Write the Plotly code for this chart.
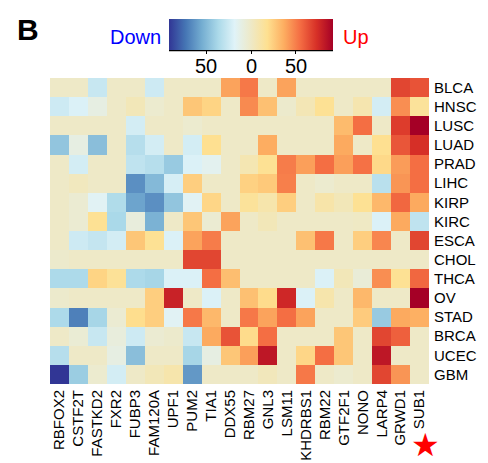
import plotly.graph_objects as go

genes = ["RBFOX2", "CSTF2T", "FASTKD2", "FXR2", "FUBP3", "FAM120A", "UPF1", "PUM2", "TIA1", "DDX55",
         "RBM27", "GNL3", "LSM11", "KHDRBS1", "RBM22", "GTF2F1", "NONO", "LARP4", "GRWD1", "SUB1"]
cancers = ["BLCA", "HNSC", "LUSC", "LUAD", "PRAD", "LIHC", "KIRP", "KIRC", "ESCA", "CHOL",
           "THCA", "OV", "STAD", "BRCA", "UCEC", "GBM"]

BLCA = [0, 0, -27, 0, 0, -25, 0, 0, 0, 40, 52, 0, 40, 0, 0, 0, 0, 0, 67, 63]
HNSC = [-25, -20, -10, 0, 5, -3, 0, 28, 23, 0, 47, 30, -2, 6, 17, 0, 8, -23, 46, 15]
LUSC = [0, 0, 0, 0, -23, 0, 0, -3, 0, 0, 0, 0, 0, 0, 0, 32, 55, 0, 70, 92]
LUAD = [-45, -10, -48, 0, -33, -23, 0, -23, 18, 0, 0, 37, 0, 0, 0, 38, 0, 18, 62, 74]
PRAD = [0, -23, 0, 0, -30, -33, -43, -20, -15, 0, 7, 17, 51, 41, 55, 41, 54, 21, 42, 55]
LIHC = [0, 3, 0, 0, -65, -50, -22, 25, 0, 0, 24, 27, 50, 0, -3, 0, 0, -32, 44, 55]
KIRP = [0, -4, -17, -35, -58, -65, -45, -17, 22, 0, 15, 9, 25, 0, 10, 5, 17, 33, 57, 38]
KIRC = [0, -4, 17, -37, -8, -53, 0, 28, -4, 40, 0, 5, 0, 0, 0, 0, 1, -20, 38, -30]
ESCA = [0, -25, -28, -23, 28, 17, -20, 40, 51, 0, 0, 0, 0, 30, 52, 0, 25, 48, 0, 67]
CHOL = [-2, 0, 0, 0, 0, 0, 0, 67, 67, 0, 0, 0, 0, 0, 0, 0, 0, 0, 0, 0]
THCA = [-36, -36, 23, 16, -36, -38, -20, -20, 55, 31, 0, 0, 0, 0, -20, 5, -6, 46, 17, 57]
OV = [-2, 0, 0, 0, 0, 25, 79, 0, -20, 0, 30, 20, 77, -20, 9, 0, 33, 0, 0, 92]
STAD = [-36, -70, -38, -4, 19, 25, -17, 52, 33, 0, 52, 40, 55, 40, 0, 0, 26, -43, 38, 36]
BRCA = [0, -5, -27, -8, -25, -4, -2, -27, 38, 63, 20, 55, 0, 0, 0, 28, 0, 67, 59, 0]
UCEC = [-33, 0, 0, -10, -48, 0, 0, -38, -10, 28, 41, 83, 0, 22, 55, 28, 0, 83, 0, 0]
GBM = [-92, -42, -3, -23, 0, 5, 9, -62, 0, 0, 0, 4, 0, 52, 0, -3, 0, 67, 44, 0]

values = [BLCA, HNSC, LUSC, LUAD, PRAD, LIHC, KIRP, KIRC, ESCA, CHOL, THCA, OV, STAD, BRCA, UCEC, GBM]

cbar_tickvals = [-50, 0, 50]
cbar_ticktext = ["50", "0", "50"]
ZMIN, ZMAX = -92, 92

colorscale = [
    [0.0, "#313695"], [0.1, "#4575b4"], [0.2, "#74add1"], [0.3, "#abd9e9"],
    [0.4, "#e0f3f8"], [0.5, "#eee9c7"], [0.6, "#fee090"], [0.7, "#fdae61"],
    [0.8, "#f46d43"], [0.9, "#d73027"], [1.0, "#a50026"],
]

# The page body adds an 8px margin; the figure is sized/offset to compensate.
OFF = 8
W, H = 488 - OFF, 463 - OFF
SL, SR, ST, SB = 50, 429, 78, 384  # plot area in screen pixels
CB_X0, CB_LEN, CB_TOP, CB_THICK = 169, 164, 19, 31


def px(x):
    return (x - SL) / (SR - SL)


def py(y):
    return (SB - y) / (SB - ST)


def cb_pos(v):
    return CB_X0 + (v - ZMIN) / (ZMAX - ZMIN) * CB_LEN


FONT = "Liberation Sans, Arial, sans-serif"

fig = go.Figure(go.Heatmap(
    z=values, x=genes, y=cancers,
    colorscale=colorscale, zmin=ZMIN, zmax=ZMAX,
    colorbar=dict(
        orientation="h", x=px(CB_X0), xanchor="left", y=py(CB_TOP), yanchor="top",
        len=CB_LEN, lenmode="pixels", thickness=CB_THICK, thicknessmode="pixels",
        xpad=0, ypad=0,
        outlinewidth=0, tickvals=cbar_tickvals, ticktext=cbar_ticktext,
        showticklabels=False,
        ticks="outside", ticklen=4, tickwidth=1, tickcolor="black",
    ),
))

fig.update_layout(
    width=W, height=H,
    margin=dict(l=SL - OFF, r=W - (SR - OFF), t=ST - OFF, b=H - (SB - OFF), pad=0, autoexpand=False),
    paper_bgcolor="white", plot_bgcolor="white",
    font=dict(family=FONT, color="black"),
    xaxis=dict(side="bottom", tickangle=-90, tickfont=dict(size=15), ticks="",
               ticklabelstandoff=2,
               showgrid=False, zeroline=False, showline=False, automargin=False),
    yaxis=dict(side="right", autorange="reversed", tickfont=dict(size=15), ticks="",
               ticklabelstandoff=4,
               showgrid=False, zeroline=False, showline=False, automargin=False),
    showlegend=False,
)

fig.add_shape(type="line", xref="paper", yref="paper",
              x0=px(CB_X0), x1=px(CB_X0 + CB_LEN),
              y0=py(CB_TOP + CB_THICK + 0.5), y1=py(CB_TOP + CB_THICK + 0.5),
              line=dict(color="black", width=1.5))


def label(text, x, y, size, color, family=FONT):
    fig.add_annotation(text=text, x=px(x), y=py(y), xref="paper", yref="paper",
                       xanchor="center", yanchor="middle", showarrow=False,
                       font=dict(size=size, family=family, color=color))


for v, t in zip(cbar_tickvals, cbar_ticktext):
    label(t, cb_pos(v), 66, 20, "black")

label("<b>B</b>", 28, 30, 30, "black")
label("Down", 135, 37, 20, "#0000ff")
label("Up", 356, 37, 20, "#ff0000")
label("★", 425, 445, 32, "#ff0000", "DejaVu Sans")

fig.write_html("out.html")
